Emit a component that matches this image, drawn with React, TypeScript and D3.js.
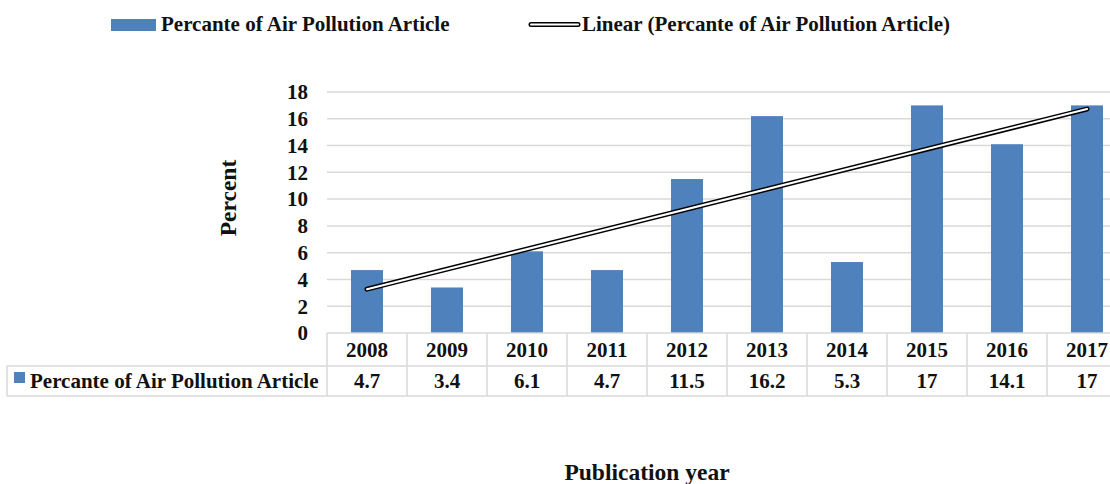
import { useMemo } from "react";
import * as d3 from "d3";

const YEARS = ["2008", "2009", "2010", "2011", "2012", "2013", "2014", "2015", "2016", "2017"];
const PERCENT = [4.7, 3.4, 6.1, 4.7, 11.5, 16.2, 5.3, 17, 14.1, 17];
const Y_TICKS = [0, 2, 4, 6, 8, 10, 12, 14, 16, 18];
const SERIES_NAME = "Percante of Air Pollution Article";

const W = 1110;
const H = 484;
const BLUE = "#4f81bd";
const GRID = "#d9d9d9";
const FONT = "'Liberation Serif', 'Times New Roman', serif";
const FS = 21;

export default function App() {
  const left = 327;
  const bandW = 80;
  const top = 92;
  const bottom = 333;
  const row1 = 366;
  const row2 = 396;
  const tableLeft = 7;

  const x = useMemo(
    () =>
      d3
        .scaleBand<string>()
        .domain(YEARS)
        .range([left, left + bandW * YEARS.length])
        .paddingInner(0.6)
        .paddingOuter(0.3),
    [],
  );
  const y = useMemo(() => d3.scaleLinear().domain([0, 18]).range([bottom, top]), []);

  // linear trendline (least squares)
  const idx = PERCENT.map((_, i) => i);
  const mx = d3.mean(idx) as number;
  const my = d3.mean(PERCENT) as number;
  const slope =
    d3.sum(idx, (i) => (i - mx) * (PERCENT[i] - my)) / d3.sum(idx, (i) => (i - mx) * (i - mx));
  const icpt = my - slope * mx;
  const cx = (i: number) => (x(YEARS[i]) as number) + x.bandwidth() / 2;
  const trend = d3
    .line<number>()
    .x((i) => cx(i))
    .y((i) => y(icpt + slope * i))([0, YEARS.length - 1]) as string;

  return (
    <svg
      width={W}
      height={H}
      style={{ position: "absolute", left: 0, top: 0, background: "#fff" }}
      fontFamily={FONT}
      fontWeight="bold"
    >
      {/* legend */}
      <rect x={111} y={19} width={45} height={12} fill={BLUE} />
      <text x={161} y={31} fontSize={FS} fill="#111">
        {SERIES_NAME}
      </text>
      <line x1={531} y1={24.5} x2={578} y2={24.5} stroke="#000" strokeWidth={5} strokeLinecap="round" />
      <line x1={531} y1={24.5} x2={578} y2={24.5} stroke="#fff" strokeWidth={2} strokeLinecap="round" />
      <text x={582} y={31} fontSize={FS} fill="#111">
        {`Linear (${SERIES_NAME})`}
      </text>

      {/* gridlines */}
      {Y_TICKS.filter((t) => t > 0).map((t) => (
        <line key={t} x1={left} x2={W} y1={y(t)} y2={y(t)} stroke={GRID} strokeWidth={1.5} />
      ))}
      {Y_TICKS.map((t) => (
        <text key={t} x={308} y={y(t)} dy="0.35em" textAnchor="end" fontSize={FS} fill="#111">
          {t}
        </text>
      ))}

      {/* bars */}
      {PERCENT.map((v, i) => (
        <rect key={YEARS[i]} x={x(YEARS[i])} y={y(v)} width={x.bandwidth()} height={y(0) - y(v)} fill={BLUE} />
      ))}

      {/* trendline */}
      <path d={trend} fill="none" stroke="#000" strokeWidth={5} strokeLinecap="round" />
      <path d={trend} fill="none" stroke="#fff" strokeWidth={2} strokeLinecap="round" />

      {/* data table */}
      <g stroke={GRID} strokeWidth={1.5}>
        <line x1={left} x2={W} y1={bottom} y2={bottom} />
        <line x1={tableLeft} x2={W} y1={row1} y2={row1} />
        <line x1={tableLeft} x2={W} y1={row2} y2={row2} />
        <line x1={tableLeft} x2={tableLeft} y1={row1} y2={row2} />
        {d3.range(YEARS.length + 1).map((i) => (
          <line key={i} x1={left + i * bandW} x2={left + i * bandW} y1={bottom} y2={row2} />
        ))}
      </g>
      {YEARS.map((yr, i) => (
        <text key={yr} x={cx(i)} y={(bottom + row1) / 2} dy="0.35em" textAnchor="middle" fontSize={FS} fill="#111">
          {yr}
        </text>
      ))}
      {PERCENT.map((v, i) => (
        <text key={YEARS[i]} x={cx(i)} y={(row1 + row2) / 2} dy="0.35em" textAnchor="middle" fontSize={FS} fill="#111">
          {v}
        </text>
      ))}
      <rect x={14} y={372} width={11} height={11} fill={BLUE} />
      <text x={30} y={(row1 + row2) / 2} dy="0.35em" fontSize={FS} fill="#111">
        {SERIES_NAME}
      </text>

      {/* axis titles */}
      <text transform="translate(236,198) rotate(-90)" textAnchor="middle" fontSize={23.5} fill="#111">
        Percent
      </text>
      <text x={647} y={480} textAnchor="middle" fontSize={23.5} fill="#111">
        Publication year
      </text>
    </svg>
  );
}
